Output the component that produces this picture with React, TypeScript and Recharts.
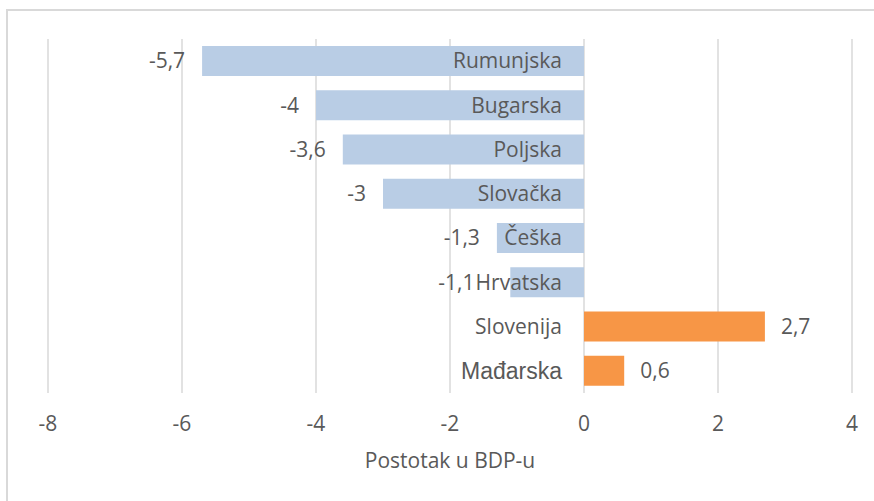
import React from "react";
import { BarChart, Bar, XAxis, YAxis, CartesianGrid, Cell, LabelList } from "recharts";

const countries = ["Rumunjska", "Bugarska", "Poljska", "Slovačka", "Češka", "Hrvatska", "Slovenija", "Mađarska"];
const values = [-5.7, -4, -3.6, -3, -1.3, -1.1, 2.7, 0.6];
const xTicks = [-8, -6, -4, -2, 0, 2, 4];

const data = countries.map((name, i) => ({ name, value: values[i] }));

const FONT = "'Open Sans', sans-serif";
const TEXT = "#595959";
const SIZE = 21;
const NAME_GAP = 22;

const fmt = (v: number) => String(v).replace(".", ",");

// Mađarska is set in a different font in the original
const nameFont = (name: string) =>
  name === "Mađarska"
    ? { size: 23, family: "'Liberation Sans', Arial, sans-serif" }
    : { size: SIZE, family: FONT };

let ctx: CanvasRenderingContext2D | null = null;
function textWidth(s: string, size: number, family: string) {
  if (!ctx) ctx = document.createElement("canvas").getContext("2d");
  if (!ctx) return s.length * size * 0.5;
  ctx.font = `${size}px ${family}`;
  return ctx.measureText(s).width;
}

function ValueLabel(props: any) {
  const { x, y, width, height, value, index } = props;
  const left = Math.min(x, x + width);
  const right = Math.max(x, x + width);
  const neg = value < 0;
  let tx = neg ? left - 17 : right + 16;
  if (neg) {
    // keep clear of the country name, as Excel does
    const f = nameFont(countries[index]);
    const nameStart = right - NAME_GAP - textWidth(countries[index], f.size, f.family);
    tx = Math.min(tx, nameStart - 1);
  }
  return (
    <text
      x={tx}
      y={y + height / 2}
      dy="0.35em"
      textAnchor={neg ? "end" : "start"}
      fill={TEXT}
      fontSize={SIZE}
      fontFamily={FONT}
    >
      {fmt(value)}
    </text>
  );
}

function NameLabel(props: any) {
  const { x, y, width, height, value, index } = props;
  const left = Math.min(x, x + width);
  const right = Math.max(x, x + width);
  const zero = values[index] < 0 ? right : left;
  const f = nameFont(value);
  return (
    <text
      x={zero - NAME_GAP}
      y={y + height / 2}
      dy="0.35em"
      textAnchor="end"
      fill={TEXT}
      fontSize={f.size}
      fontFamily={f.family}
    >
      {value}
    </text>
  );
}

export default function App() {
  return (
    <div style={{ position: "absolute", left: 0, top: 0, width: 874, height: 501, overflow: "hidden", background: "#fff" }}>
      <div
        style={{
          position: "absolute",
          left: 6,
          top: 9,
          width: 900,
          height: 600,
          borderTop: "2px solid #d9d9d9",
          borderLeft: "2px solid #d9d9d9",
        }}
      />
      <BarChart
        width={874}
        height={501}
        data={data}
        layout="vertical"
        margin={{ top: 39, right: 22, bottom: 78, left: 48 }}
        style={{ position: "absolute", left: 0, top: 0 }}
      >
        <CartesianGrid horizontal={false} stroke="#d9d9d9" strokeWidth={1.5} />
        <XAxis
          type="number"
          domain={[-8, 4]}
          ticks={xTicks}
          height={30}
          tickLine={false}
          axisLine={false}
          tickSize={0}
          tickMargin={23}
          tick={{ fill: TEXT, fontSize: SIZE, fontFamily: FONT }}
          label={{ value: "Postotak u BDP-u", position: "bottom", offset: 30, fill: TEXT, fontSize: SIZE, fontFamily: FONT }}
        />
        <YAxis type="category" dataKey="name" hide width={0} />
        <Bar dataKey="value" barSize={30} isAnimationActive={false}>
          {data.map((d) => (
            <Cell key={d.name} fill={d.value < 0 ? "#b9cde5" : "#f79646"} />
          ))}
          <LabelList dataKey="value" content={<ValueLabel />} />
          <LabelList dataKey="name" content={<NameLabel />} />
        </Bar>
      </BarChart>
    </div>
  );
}
